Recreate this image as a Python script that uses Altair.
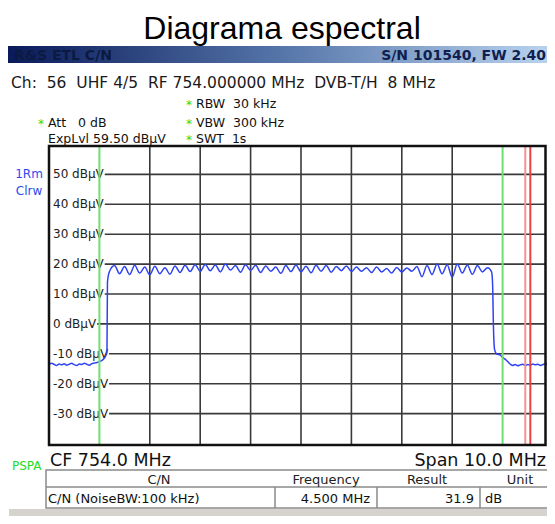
import altair as alt
import pandas as pd

# ---------------- data ----------------
freq_mhz = [
    749.00, 749.05, 749.10, 749.15, 749.20, 749.25, 749.30, 749.35, 749.40, 749.45,
    749.50, 749.55, 749.60, 749.65, 749.70, 749.75, 749.80, 749.85, 749.90, 749.95,
    750.00, 750.05, 750.10, 750.13, 750.15, 750.16, 750.20,
    750.3, 750.4, 750.5, 750.6, 750.7, 750.8, 750.9, 751.0, 751.1, 751.2,
    751.3, 751.4, 751.5, 751.6, 751.7, 751.8, 751.9, 752.0, 752.1, 752.2,
    752.3, 752.4, 752.5, 752.6, 752.7, 752.8, 752.9, 753.0, 753.1, 753.2,
    753.3, 753.4, 753.5, 753.6, 753.7, 753.8, 753.9, 754.0, 754.1, 754.2,
    754.3, 754.4, 754.5, 754.6, 754.7, 754.8, 754.9, 755.0, 755.1, 755.2,
    755.3, 755.4, 755.5, 755.6, 755.7, 755.8, 755.9, 756.0, 756.1, 756.2,
    756.3, 756.4, 756.5, 756.6, 756.7, 756.8, 756.9, 757.0, 757.1, 757.2,
    757.3, 757.4, 757.5, 757.6, 757.7,
    757.78, 757.80, 757.82, 757.84, 757.88, 757.95, 758.00, 758.05, 758.10, 758.15,
    758.20, 758.25, 758.30, 758.35, 758.40, 758.45, 758.50, 758.55, 758.60, 758.65,
    758.70, 758.75, 758.80, 758.85, 758.90,
]
level_dbuv = [
    -13.6, -13.2, -13.5, -13.9, -13.4, -13.7, -13.3, -13.8, -13.5, -13.2,
    -13.6, -13.9, -13.4, -13.6, -13.2, -13.5, -13.8, -13.3, -13.1, -12.9,
    -12.6, -12.2, -11.4, -10.5, -9.5, 14.0, 17.5,
    19.5, 16.8, 19.2, 16.5, 19.6, 17.0, 19.0, 16.4, 19.3, 16.8,
    18.8, 16.6, 19.4, 17.2, 19.6, 17.5, 19.8, 17.6, 19.9, 17.8,
    19.7, 17.4, 20.0, 18.0, 19.5, 17.3, 19.8, 17.9, 19.6, 17.2,
    19.4, 17.6, 19.0, 16.9, 19.5, 17.5, 19.7, 17.4, 19.3, 17.1,
    19.6, 17.6, 19.5, 17.3, 19.2, 17.8, 19.4, 17.5, 19.0, 17.6,
    18.8, 17.2, 19.0, 17.4, 18.5, 17.0, 18.9, 17.3, 18.7, 17.6,
    19.2, 15.8, 19.5, 16.5, 20.0, 16.8, 19.8, 15.6, 20.0, 17.0,
    19.7, 16.6, 19.5, 17.4, 18.8,
    17.5, 14.0, -2.0, -8.5, -10.0, -10.4, -11.2, -11.8, -12.6, -13.4,
    -13.9, -13.6, -14.0, -13.7, -13.5, -13.9, -13.6, -13.8, -13.4, -13.7,
    -13.5, -13.9, -13.6, -13.3, -13.7,
]

grid_levels = [50, 40, 30, 20, 10, 0, -10, -20, -30]
grid_labels = ["50 dBµV", "40 dBµV", "30 dBµV", "20 dBµV", "10 dBµV",
               "0 dBµV", "-10 dBµV", "-20 dBµV", "-30 dBµV"]
grid_freqs = [751, 752, 753, 754, 755, 756, 757]
green_freqs = [750.0, 758.0]
red_freqs = [758.45, 758.55]

NB = "\u00a0"
title_text = "Diagrama espectral"
header_left = "R&S ETL C/N"
header_right = "S/N 101540, FW 2.40"
info_line = f"Ch:{NB}{NB}56{NB}{NB}UHF 4/5{NB}{NB}RF 754.000000 MHz{NB}{NB}DVB-T/H{NB}{NB}8 MHz"
settings_left = [f"Att{NB}{NB}{NB}0 dB", "ExpLvl 59.50 dBµV"]
settings_mid = [f"RBW{NB}{NB}30 kHz", f"VBW{NB}{NB}300 kHz", f"SWT{NB}{NB}1s"]
trace_labels = ["1Rm", "Clrw"]
cf_text = "CF 754.0 MHz"
span_text = "Span 10.0 MHz"
mode_text = "PSPA"
table_head = ["C/N", "Frequency", "Result", "Unit"]
table_row = ["C/N (NoiseBW:100 kHz)", "4.500 MHz", "31.9", "dB"]

# ---------------- layout ----------------
W, H = 539, 508
PX0, PX1 = 41, 545        # scale range (10 MHz span)
FRAME_R = 537.5           # visible right border of the plot
PY0, PY1 = 138, 437       # plot area y pixels (top, bottom)
F0, F1 = 749.0, 759.0
L0, L1 = -40.5, 59.5
FONT = "DejaVu Sans"

xs = alt.Scale(domain=[F0, F1], range=[PX0, PX1])
ys = alt.Scale(domain=[L0, L1], range=[PY1, PY0])

one = pd.DataFrame({"k": [0]})


def txt(s, x, y, size=12, color="#111111", align="left", weight="normal",
        font=FONT, baseline="alphabetic"):
    return alt.Chart(one).mark_text(
        align=align, baseline=baseline, fontSize=size, color=color,
        fontWeight=weight, font=font,
    ).encode(x=alt.value(x), y=alt.value(y), text=alt.value(s))


def box(x, x2, y, y2, fill="white", stroke=None, sw=1.0):
    kw = dict(fill=fill)
    if stroke is not None:
        kw.update(stroke=stroke, strokeWidth=sw)
    else:
        kw.update(strokeWidth=0)
    return alt.Chart(one).mark_rect(**kw).encode(
        x=alt.value(x), x2=alt.value(x2), y=alt.value(y), y2=alt.value(y2))


def hline(x, x2, y, color="#888888", sw=1.0):
    return alt.Chart(one).mark_rule(color=color, strokeWidth=sw).encode(
        x=alt.value(x), x2=alt.value(x2), y=alt.value(y))


def vline(x, y, y2, color="#888888", sw=1.0):
    return alt.Chart(one).mark_rule(color=color, strokeWidth=sw).encode(
        x=alt.value(x), y=alt.value(y), y2=alt.value(y2))


# label widths (DejaVu Sans 12px) so the grid line starts after each label
cw = {"0": 7.63, "1": 7.63, "2": 7.63, "3": 7.63, "4": 7.63, "5": 7.63,
      " ": 3.81, "-": 4.33, "d": 7.62, "B": 8.23, "µ": 7.63, "V": 8.21}
LABEL_X = 45
px_per_mhz = (PX1 - PX0) / (F1 - F0)
grid_df = pd.DataFrame({
    "level": grid_levels,
    "label": grid_labels,
    "f0": [F0 + (LABEL_X + sum(cw.get(c, 7.6) for c in s) + 1 - PX0) / px_per_mhz
           for s in grid_labels],
    "f1": [F0 + (FRAME_R - PX0) / px_per_mhz] * len(grid_levels),
})

trace_df = pd.DataFrame({"f": freq_mhz, "lvl": level_dbuv})

layers = []

# header
layers.append(txt(title_text, 274, 31, size=32, color="#000000",
                  align="center", font="Liberation Sans"))
grad = alt.Gradient(gradient="linear",
                    stops=[alt.GradientStop(color="#0a1a5a", offset=0),
                           alt.GradientStop(color="#5474a8", offset=0.5),
                           alt.GradientStop(color="#b8d2ee", offset=1)],
                    x1=0, x2=1, y1=0, y2=0)
layers.append(alt.Chart(one).mark_rect(color=grad).encode(
    x=alt.value(0), x2=alt.value(W), y=alt.value(38), y2=alt.value(55)))
layers.append(txt(header_left, 6, 52, size=14, color="#0b1a40", weight="bold"))
layers.append(txt(header_right, 538, 52, size=14, color="#0f1f50",
                  weight="bold", align="right"))
layers.append(txt(info_line, 3, 80, size=15.5, color="#1a1a1a"))

# settings block
GREEN = "#22dd22"
SS = 12.5
layers.append(txt("*", 178, 101, size=12, color=GREEN))
layers.append(txt(settings_mid[0], 188, 100, size=SS))
layers.append(txt("*", 30, 120, size=12, color=GREEN))
layers.append(txt(settings_left[0], 40, 119, size=SS))
layers.append(txt("*", 178, 120, size=12, color=GREEN))
layers.append(txt(settings_mid[1], 188, 119, size=SS))
layers.append(txt(settings_left[1], 40, 135, size=SS))
layers.append(txt("*", 178, 136, size=12, color=GREEN))
layers.append(txt(settings_mid[2], 188, 135, size=SS))

# trace labels on the left
layers.append(txt(trace_labels[0], 21, 170, size=12, color="#2c48f0", align="center"))
layers.append(txt(trace_labels[1], 21, 187, size=12, color="#2c48f0", align="center"))

# plot background
layers.append(box(PX0, FRAME_R, PY0, PY1, fill="white"))

# vertical grid
layers.append(alt.Chart(pd.DataFrame({"f": grid_freqs})).mark_rule(
    color="#3a3a3a", strokeWidth=1.6).encode(
    x=alt.X("f:Q", scale=xs, axis=None), y=alt.value(PY0), y2=alt.value(PY1)))

# horizontal grid (starting after the label)
layers.append(alt.Chart(grid_df).mark_rule(color="#3a3a3a", strokeWidth=1.6).encode(
    x=alt.X("f0:Q", scale=xs, axis=None), x2="f1:Q",
    y=alt.Y("level:Q", scale=ys, axis=None)))

# level labels
layers.append(alt.Chart(grid_df).mark_text(
    align="left", baseline="middle", fontSize=12, font=FONT, color="#222222").encode(
    x=alt.value(LABEL_X), y=alt.Y("level:Q", scale=ys, axis=None), text="label:N"))

# spectrum trace
layers.append(alt.Chart(trace_df).mark_line(
    color="#2f44f0", strokeWidth=1.5, interpolate="monotone").encode(
    x=alt.X("f:Q", scale=xs, axis=None), y=alt.Y("lvl:Q", scale=ys, axis=None)))

# markers
layers.append(alt.Chart(pd.DataFrame({"f": green_freqs})).mark_rule(
    color="#6fe06f", strokeWidth=2).encode(
    x=alt.X("f:Q", scale=xs, axis=None), y=alt.value(PY0), y2=alt.value(PY1)))
layers.append(alt.Chart(pd.DataFrame({"f": red_freqs, "c": ["a", "b"]})).mark_rule(
    strokeWidth=2).encode(
    x=alt.X("f:Q", scale=xs, axis=None), y=alt.value(PY0), y2=alt.value(PY1),
    color=alt.Color("c:N", scale=alt.Scale(domain=["a", "b"],
                                           range=["#f59494", "#ee4040"]),
                    legend=None)))

# plot frame
layers.append(alt.Chart(one).mark_rect(fill=None, stroke="#111111", strokeWidth=2.5).encode(
    x=alt.value(PX0), x2=alt.value(FRAME_R), y=alt.value(PY0), y2=alt.value(PY1)))

# bottom status
layers.append(txt(cf_text, 42, 458, size=17.5, color="#111111"))
layers.append(txt(span_text, 538, 458, size=17.5, color="#111111", align="right"))
layers.append(txt(mode_text, 4, 462, size=12, color=GREEN))

# results table
TX0, TX1 = 38, 539
TY0, TY1, TY2 = 462, 479, 500
layers.append(box(TX0, TX1 + 2, TY0, TY2, fill="white", stroke="#8a8a8a", sw=1.5))
layers.append(hline(TX0, TX1, TY1, color="#8a8a8a", sw=1.5))
for cx in [267, 369, 472]:
    layers.append(vline(cx, TY1, TY2, color="#8a8a8a", sw=1.5))
for s, cx in zip(table_head, [151, 318, 419, 512]):
    layers.append(txt(s, cx, 475.5, size=13, color="#222222", align="center"))
layers.append(txt(table_row[0], 40, 494.5, size=13, color="#111111"))
layers.append(txt(table_row[1], 362, 494.5, size=13, color="#111111", align="right"))
layers.append(txt(table_row[2], 466, 494.5, size=13, color="#111111", align="right"))
layers.append(txt(table_row[3], 477, 494.5, size=13, color="#111111"))

# bottom grey band
layers.append(box(1, W, 501, H, fill="#d6d3ce"))

chart = alt.layer(*layers).properties(
    width=W, height=H,
    autosize=alt.AutoSizeParams(type="none"),
    padding=0,
    background="white",
).configure_view(stroke=None)

chart.save("out.html", embed_options={"renderer": "svg", "actions": False})
